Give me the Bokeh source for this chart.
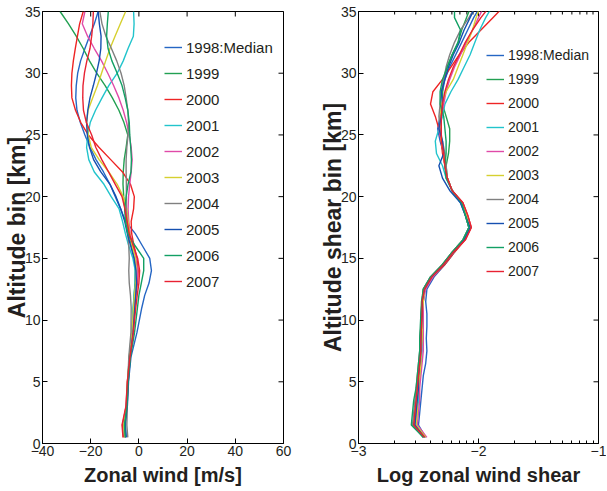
from bokeh.plotting import figure
from bokeh.models import (FixedTicker, Legend, LegendItem, Range1d)
from bokeh.layouts import row
from bokeh.embed import file_html
from bokeh.resources import INLINE
import math

# ---------------- data ----------------
years = ["1998:Median", "1999", "2000", "2001", "2002", "2003", "2004", "2005", "2006", "2007"]
colors = ["#2566c4", "#22a052", "#ee2424", "#22c4cc", "#e04aa8", "#d6d030",
          "#808080", "#1550b0", "#12a064", "#e82232"]

alt_wind = [0.5, 1.5, 3, 5, 7, 9, 11, 12, 13, 14, 15, 16, 17, 18, 19, 20, 21, 22, 23,
            24, 25, 26, 27, 28, 29, 30, 31, 32, 33, 34, 35]

wind_1998 = [-5.2, -5.6, -4.8, -4.3, -3.3, -0.8, 1.2, 2.4, 4.2, 5.2, 4.5, 1.5, -1.5, -5.5, -7.6, -9.8,
             -12.0, -14.7, -17.8, -20.3, -22.4, -24.3, -25.7, -26.2, -26.0, -25.4, -24.2, -22.4, -20.5, -18.5, -16.9]
wind_1999 = [-5.6, -6.0, -5.0, -4.6, -3.9, -2.8, -2.3, -2.0, -1.6, -1.5, -1.8, -3.0, -4.2, -5.0, -5.8, -6.3,
             -6.6, -6.5, -6.1, -5.3, -4.6, -6.2, -8.3, -11.0, -14.0, -17.5, -20.5, -23.1, -26.0, -29.2, -32.7]
wind_2000 = [-6.4, -6.8, -5.3, -4.8, -3.8, -2.6, -1.8, -1.3, -0.6, -0.3, -0.8, -2.0, -3.0, -3.2, -2.2, -1.9,
             -3.5, -6.8, -11.7, -16.6, -21.0, -24.1, -26.3, -27.8, -28.0, -27.8, -27.2, -26.4, -25.5, -24.6, -23.1]
wind_2001 = [-6.0, -6.3, -5.2, -4.7, -4.0, -3.0, -2.4, -2.0, -1.5, -1.5, -2.5, -4.2, -5.6, -6.8, -8.2, -11.5,
             -14.5, -18.5, -20.8, -21.7, -21.2, -20.2, -18.0, -15.3, -12.5, -9.0, -6.5, -4.5, -2.3, -2.0, -2.2]
wind_2002 = [-5.8, -6.2, -5.0, -4.5, -3.8, -2.7, -2.0, -1.5, -0.9, -0.6, -1.2, -2.6, -3.6, -4.2, -4.5, -4.3,
             -3.8, -3.2, -2.8, -3.2, -4.0, -5.1, -6.5, -8.3, -10.5, -12.9, -15.5, -18.5, -21.3, -23.5, -22.4]
wind_2003 = [-5.9, -6.3, -5.1, -4.7, -4.0, -2.9, -2.2, -1.8, -1.3, -1.0, -1.5, -2.8, -3.8, -4.5, -5.0, -6.5,
             -9.0, -12.5, -16.5, -19.8, -21.0, -21.7, -21.1, -19.2, -17.2, -15.5, -13.8, -12.0, -9.9, -7.7, -5.5]
wind_2004 = [-4.6, -5.0, -4.8, -4.6, -4.2, -3.3, -3.2, -3.5, -4.0, -4.2, -4.0, -4.2, -4.6, -5.0, -5.2, -5.2,
             -5.2, -5.3, -5.3, -5.0, -4.5, -4.3, -4.6, -5.3, -6.1, -7.4, -9.2, -11.4, -13.7, -15.3, -16.2]
wind_2005 = [-5.4, -5.8, -4.9, -4.4, -3.6, -2.4, -1.7, -1.3, -1.0, -1.2, -2.0, -3.4, -4.8, -5.9, -7.5, -9.5,
             -12.0, -15.8, -18.8, -20.5, -21.4, -21.7, -21.2, -20.3, -18.9, -17.6, -16.5, -15.8, -15.7, -16.4, -16.9]
wind_2006 = [-5.7, -6.0, -5.0, -4.5, -3.5, -1.8, -0.6, 0.0, 1.0, 2.0, 2.0, -1.5, -4.6, -5.6, -5.9, -5.3,
             -4.5, -3.3, -3.1, -3.4, -3.8, -4.0, -4.6, -5.7, -7.0, -9.0, -11.2, -12.8, -13.4, -13.1, -12.7]
wind_2007 = [-6.6, -7.0, -5.4, -4.8, -3.7, -2.3, -1.3, -0.7, 0.0, 0.3, -0.5, -2.3, -4.0, -4.9, -5.8, -7.0,
             -9.8, -12.6, -15.4, -17.9, -19.6, -21.8, -23.0, -23.3, -23.2, -22.6, -21.6, -20.3, -19.6, -19.1, -18.9]

alt_shear = [0.5, 1.5, 2.5, 3.5, 4.5, 5.5, 6.5, 7.5, 8.5, 9.5, 10.5, 11.5, 12.5, 13.5, 14.5, 15.5, 16.5, 17.5,
             18.5, 19.5, 20.5, 21.5, 22.5, 23.5, 24.5, 25.5, 26.5, 27.5, 28.5, 29.5, 30.5, 31.5, 32.5, 33.5, 34.5, 35.5]

shear_1998 = [-2.44, -2.50, -2.49, -2.48, -2.47, -2.46, -2.44, -2.43, -2.435, -2.43, -2.43, -2.44, -2.43, -2.37,
              -2.28, -2.20, -2.12, -2.08, -2.11, -2.15,
              -2.22, -2.26, -2.28, -2.29, -2.32, -2.34, -2.32, -2.30, -2.30, -2.28, -2.24, -2.19, -2.14, -2.09, -2.04, -1.98]
shear_1999 = [-2.46, -2.54, -2.53, -2.52, -2.51, -2.50, -2.49, -2.48, -2.47, -2.47, -2.47, -2.47, -2.46, -2.40,
              -2.30, -2.22, -2.13, -2.08, -2.11, -2.14,
              -2.22, -2.26, -2.27, -2.25, -2.24, -2.24, -2.27, -2.30, -2.30, -2.29, -2.26, -2.22, -2.17, -2.14, -2.10, -2.06]
shear_2000 = [-2.45, -2.53, -2.52, -2.51, -2.50, -2.49, -2.48, -2.48, -2.47, -2.47, -2.46, -2.46, -2.45, -2.38,
              -2.28, -2.20, -2.11, -2.06, -2.09, -2.13,
              -2.22, -2.26, -2.28, -2.30, -2.31, -2.33, -2.36, -2.40, -2.38, -2.30, -2.23, -2.16, -2.08, -1.98, -1.88, -1.78]
shear_2001 = [-2.45, -2.52, -2.51, -2.50, -2.50, -2.49, -2.48, -2.47, -2.47, -2.465, -2.465, -2.46, -2.45, -2.39,
              -2.29, -2.21, -2.12, -2.07, -2.10, -2.15,
              -2.22, -2.27, -2.30, -2.35, -2.36, -2.33, -2.30, -2.28, -2.23, -2.17, -2.12, -2.07, -2.03, -1.99, -1.94, -1.88]
shear_2002 = [-2.43, -2.51, -2.50, -2.49, -2.49, -2.48, -2.47, -2.46, -2.46, -2.46, -2.46, -2.46, -2.44, -2.38,
              -2.29, -2.21, -2.12, -2.07, -2.10, -2.14,
              -2.22, -2.26, -2.28, -2.29, -2.31, -2.33, -2.31, -2.29, -2.27, -2.24, -2.20, -2.15, -2.10, -2.05, -2.00, -1.95]
shear_2003 = [-2.44, -2.52, -2.51, -2.51, -2.50, -2.49, -2.48, -2.48, -2.47, -2.47, -2.47, -2.46, -2.45, -2.39,
              -2.29, -2.21, -2.12, -2.07, -2.10, -2.14,
              -2.22, -2.26, -2.28, -2.29, -2.31, -2.32, -2.32, -2.31, -2.27, -2.21, -2.17, -2.13, -2.09, -2.05, -2.02, -1.98]
shear_2004 = [-2.46, -2.55, -2.54, -2.53, -2.52, -2.51, -2.50, -2.49, -2.49, -2.48, -2.48, -2.47, -2.46, -2.40,
              -2.30, -2.22, -2.13, -2.08, -2.11, -2.14,
              -2.22, -2.26, -2.27, -2.28, -2.30, -2.32, -2.33, -2.32, -2.31, -2.29, -2.27, -2.24, -2.20, -2.15, -2.08, -2.02]
shear_2005 = [-2.45, -2.53, -2.52, -2.51, -2.50, -2.50, -2.49, -2.48, -2.48, -2.475, -2.47, -2.47, -2.45, -2.39,
              -2.29, -2.21, -2.12, -2.07, -2.11, -2.15,
              -2.24, -2.30, -2.33, -2.29, -2.30, -2.33, -2.31, -2.30, -2.31, -2.28, -2.25, -2.21, -2.16, -2.12, -2.07, -2.02]
shear_2006 = [-2.46, -2.56, -2.55, -2.54, -2.52, -2.51, -2.50, -2.49, -2.49, -2.485, -2.48, -2.475, -2.46, -2.40,
              -2.30, -2.22, -2.13, -2.08, -2.11, -2.14,
              -2.22, -2.27, -2.28, -2.27, -2.27, -2.28, -2.29, -2.32, -2.32, -2.30, -2.26, -2.22, -2.17, -2.15, -2.20, -2.20]
shear_2007 = [-2.45, -2.54, -2.53, -2.52, -2.51, -2.50, -2.49, -2.48, -2.48, -2.475, -2.47, -2.47, -2.45, -2.39,
              -2.29, -2.21, -2.11, -2.06, -2.09, -2.13,
              -2.22, -2.26, -2.28, -2.29, -2.31, -2.31, -2.31, -2.30, -2.28, -2.25, -2.21, -2.16, -2.11, -2.05, -1.98, -1.90]

wind_series = [wind_1998, wind_1999, wind_2000, wind_2001, wind_2002, wind_2003, wind_2004, wind_2005, wind_2006, wind_2007]
shear_series = [shear_1998, shear_1999, shear_2000, shear_2001, shear_2002, shear_2003, shear_2004, shear_2005, shear_2006, shear_2007]

y_ticks = [0, 5, 10, 15, 20, 25, 30, 35]
y_tick_labels = ["0", "5", "10", "15", "20", "25", "30", "35"]
wind_ticks = [-40, -20, 0, 20, 40, 60]
wind_tick_labels = ["\u221240", "\u221220", "0", "20", "40", "60"]
shear_ticks = [-3, -2, -1]
shear_tick_labels = ["\u22123", "\u22122", "\u22121"]

# ---------------- styling ----------------
FONT = "Liberation Sans"
H = 491
TEXT = "#231f20"


def style_axis(ax, title_size, title_standoff):
    ax.axis_line_color = "black"
    ax.major_tick_in = 5
    ax.major_tick_out = 0
    ax.minor_tick_in = 3
    ax.minor_tick_out = 0
    ax.major_tick_line_color = "black"
    ax.minor_tick_line_color = "black"
    ax.major_label_text_font = FONT
    ax.major_label_text_font_size = "14px"
    ax.major_label_text_color = TEXT
    ax.major_label_standoff = 2
    ax.axis_label_text_font = FONT
    ax.axis_label_text_font_size = title_size
    ax.axis_label_text_font_style = "bold"
    ax.axis_label_text_color = TEXT
    ax.axis_label_standoff = title_standoff


def make_panel(xr, width, xt, xl, xminor, xtitle, ytitle, series, alts, bl, br,
               leg_xy, leg_h, leg_font):
    p = figure(width=width, height=H, x_range=Range1d(*xr), y_range=Range1d(0, 35),
               output_backend="svg", toolbar_location=None,
               min_border_left=bl, min_border_right=br, min_border_top=11, min_border_bottom=48)
    p.xgrid.visible = False
    p.ygrid.visible = False
    p.outline_line_color = "black"
    p.outline_line_alpha = 1
    p.background_fill_color = "white"
    p.border_fill_color = "white"

    p.xaxis.ticker = FixedTicker(ticks=xt, minor_ticks=xminor)
    p.yaxis.ticker = FixedTicker(ticks=y_ticks, minor_ticks=[])
    p.xaxis.major_label_overrides = {t: s for t, s in zip(xt, xl)}
    p.yaxis.major_label_overrides = {t: s for t, s in zip(y_ticks, y_tick_labels)}
    p.xaxis.axis_label = xtitle
    p.yaxis.axis_label = ytitle
    style_axis(p.xaxis[0], "20px", 5)
    style_axis(p.yaxis[0], "23px", -8)

    # inward ticks on the top and right edges of the box (clipped to the frame)
    p.scatter(xt, [35] * len(xt), marker="dash", angle=math.pi / 2, size=10,
              line_color="black", line_width=1)
    if xminor:
        p.scatter(xminor, [35] * len(xminor), marker="dash", angle=math.pi / 2, size=6,
                  line_color="black", line_width=1)
    p.scatter([xr[1]] * len(y_ticks), y_ticks, marker="dash", size=10,
              line_color="black", line_width=1)

    items = []
    for name, col, vals in zip(years, colors, series):
        r = p.line(vals, alts, line_color=col, line_width=1.4)
        items.append(LegendItem(label=name, renderers=[r]))
    leg = Legend(items=items, location=leg_xy, border_line_color=None,
                 background_fill_alpha=0, padding=0, margin=0, spacing=6,
                 glyph_width=18, glyph_height=leg_h, label_height=leg_h, label_standoff=4,
                 label_text_font=FONT, label_text_font_size=leg_font, label_text_color=TEXT)
    p.add_layout(leg)
    return p


wind_minor = []
shear_minor = [d + math.log10(k) for d in (-3, -2) for k in range(2, 10)]

left = make_panel((-40, 60), 316, wind_ticks, wind_tick_labels, wind_minor,
                  "Zonal wind [m/s]", "Altitude bin [km]", wind_series, alt_wind,
                  41, 33, (122, 152), 20, "15px")
right = make_panel((-3, -1), 290, shear_ticks, shear_tick_labels, shear_minor,
                   "Log zonal wind shear", "Altitude shear bin [km]", shear_series, alt_shear,
                   41, 8, (128, 163), 18, "14px")

layout = row(left, right)
open("out.html", "w").write(file_html(layout, INLINE))
